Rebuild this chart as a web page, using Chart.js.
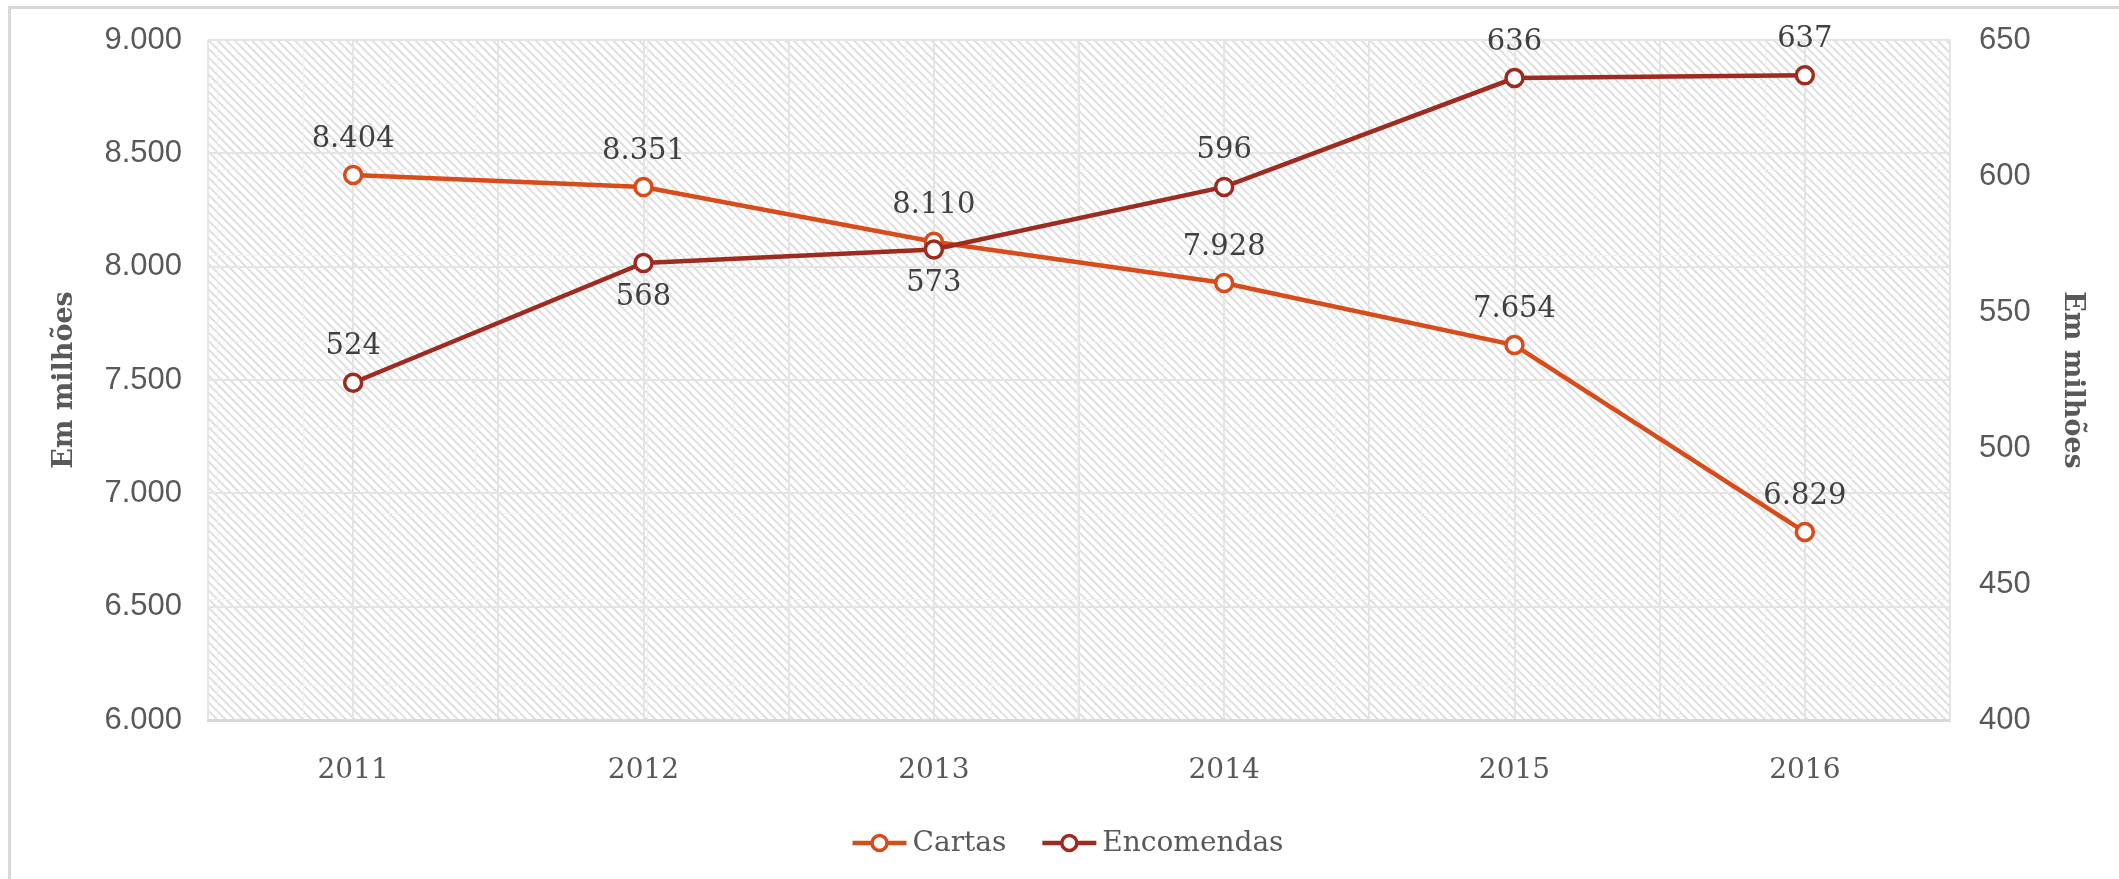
<!DOCTYPE html>
<html>
<head>
<meta charset="utf-8">
<script src="https://cdn.jsdelivr.net/npm/chart.js@4.4.0/dist/chart.umd.min.js"></script>
<style>
  html, body { margin: 0; padding: 0; background: #fff; overflow: hidden; }
  #wrap { position: relative; width: 2119px; height: 879px; }
  #frame { position: absolute; left: 8px; top: 6px; width: 2300px; height: 1000px;
           border: 3px solid #d9d9d9; box-sizing: border-box; pointer-events: none; }
  #c { position: absolute; left: 0; top: 0; }
</style>
</head>
<body>
<div id="wrap">
  <div id="frame"></div>
  <canvas id="c" width="2119" height="879"></canvas>
</div>
<script>
// Volume de tráfego postal (milhões de objetos)
const years = ['2011', '2012', '2013', '2014', '2015', '2016'];
const cartas = [8404, 8351, 8110, 7928, 7654, 6829];
const encomendas = [524, 568, 573, 596, 636, 637];

// Eixos
const leftAxis = { min: 6000, max: 9000, step: 500 };
const rightAxis = { min: 400, max: 650, step: 50 };
const axisTitle = 'Em milhões';

// Posição dos rótulos de valor de cada série
const cartasLabelSide = ['above', 'above', 'above', 'above', 'above', 'above'];
const encomendasLabelSide = ['above', 'below', 'below', 'above', 'above', 'above'];

const COL_CARTAS = '#D84B1A';
const COL_ENCOMENDAS = '#9E2B20';
const TEXT = '#595959';
const SERIF = '"DejaVu Serif", serif';
const SANS = '"Liberation Sans", Arial, sans-serif';

const fmt = v => String(v).replace(/\B(?=(\d{3})+(?!\d))/g, '.');

// Tracejado diagonal do fundo da área de plotagem
function makeHatch(ctx) {
  const T = 86, p = 8.6;
  const c = document.createElement('canvas');
  c.width = T; c.height = T;
  const g = c.getContext('2d');
  g.fillStyle = '#ffffff';
  g.fillRect(0, 0, T, T);
  g.strokeStyle = '#dfdfdf';
  g.lineWidth = 2;
  for (let k = -12; k <= 12; k++) {
    const x0 = k * p;
    g.beginPath();
    g.moveTo(x0 - p, -p);
    g.lineTo(x0 + T + p, T + p);
    g.stroke();
  }
  g.strokeStyle = 'rgba(240,240,240,0.9)';
  g.lineWidth = 1.2;
  g.beginPath();
  g.moveTo(0.5, 0); g.lineTo(0.5, T);
  g.moveTo(0, 0.5); g.lineTo(T, 0.5);
  g.stroke();
  const pat = ctx.createPattern(c, 'repeat');
  pat.setTransform(new DOMMatrix([1, 0, 0, 1, 45, -3]));
  return pat;
}

const hatchPlugin = {
  id: 'hatchBg',
  beforeDraw(chart) {
    const { ctx, chartArea: a } = chart;
    if (!this._pat) this._pat = makeHatch(ctx);
    ctx.save();
    ctx.fillStyle = this._pat;
    ctx.fillRect(a.left, a.top, a.right - a.left, a.bottom - a.top);
    ctx.restore();
  }
};

const sides = [cartasLabelSide, encomendasLabelSide];
const valueLabels = {
  id: 'valueLabels',
  afterDatasetsDraw(chart) {
    const ctx = chart.ctx;
    ctx.save();
    ctx.font = '29px ' + SERIF;
    ctx.fillStyle = '#404040';
    ctx.textAlign = 'center';
    ctx.textBaseline = 'middle';
    chart.data.datasets.forEach((ds, di) => {
      const meta = chart.getDatasetMeta(di);
      meta.data.forEach((pt, i) => {
        const off = sides[di][i] === 'below' ? 34 : -36;
        ctx.fillText(fmt(ds.data[i].y), pt.x, pt.y + off);
      });
    });
    ctx.restore();
  }
};

const lineLegend = {
  id: 'lineLegend',
  afterDraw(chart) {
    const ctx = chart.ctx;
    const cy = 843, centerX = 1068, markW = 54, gap = 6, itemGap = 36;
    ctx.save();
    ctx.font = '28px ' + SERIF;
    const items = chart.data.datasets.map(ds => ({
      text: ds.label, color: ds.borderColor, w: ctx.measureText(ds.label).width
    }));
    const total = items.reduce((s, it) => s + markW + gap + it.w, 0) + itemGap * (items.length - 1);
    let x = centerX - total / 2;
    items.forEach(it => {
      ctx.strokeStyle = it.color;
      ctx.lineWidth = 4.5;
      ctx.beginPath();
      ctx.moveTo(x, cy); ctx.lineTo(x + markW, cy);
      ctx.stroke();
      ctx.fillStyle = '#fff';
      ctx.lineWidth = 3.5;
      ctx.beginPath();
      ctx.arc(x + markW / 2, cy, 7.5, 0, Math.PI * 2);
      ctx.fill(); ctx.stroke();
      ctx.fillStyle = TEXT;
      ctx.textAlign = 'left';
      ctx.textBaseline = 'middle';
      ctx.fillText(it.text, x + markW + gap, cy + 1);
      x += markW + gap + it.w + itemGap;
    });
    ctx.restore();
  }
};

const toPoints = arr => arr.map((v, i) => ({ x: i, y: v }));

const seriesStyle = color => ({
  borderColor: color,
  backgroundColor: color,
  borderWidth: 4.5,
  pointRadius: 8.5,
  pointBorderWidth: 3.5,
  pointBackgroundColor: '#ffffff',
  pointBorderColor: color,
  tension: 0
});

// Larguras fixas dos eixos verticais, sem folga extra em cima/baixo
const fixVertical = width => s => {
  s.width = width;
  s.paddingTop = 0;
  s.paddingBottom = 0;
};

new Chart(document.getElementById('c'), {
  type: 'line',
  data: {
    datasets: [
      Object.assign({ label: 'Cartas', data: toPoints(cartas), yAxisID: 'y', order: 1 }, seriesStyle(COL_CARTAS)),
      Object.assign({ label: 'Encomendas', data: toPoints(encomendas), yAxisID: 'y2', order: 0 }, seriesStyle(COL_ENCOMENDAS))
    ]
  },
  options: {
    responsive: false,
    animation: false,
    layout: { padding: { left: 20, right: 4, top: 40, bottom: 59 } },
    plugins: {
      legend: { display: false },
      tooltip: { enabled: false }
    },
    scales: {
      x: {
        type: 'linear',
        min: -0.5,
        max: years.length - 0.5,
        afterFit: s => { s.height = 100; },
        afterBuildTicks: s => {
          const t = [];
          for (let v = -0.5; v <= years.length - 0.5 + 1e-9; v += 0.5) t.push({ value: v });
          s.ticks = t;
        },
        ticks: {
          autoSkip: false,
          maxRotation: 0,
          padding: 34,
          color: TEXT,
          font: { family: SERIF, size: 28 },
          callback: v => (Number.isInteger(v) ? years[v] : '')
        },
        grid: { color: '#e4e4e4', lineWidth: 2, drawTicks: false },
        border: { display: true, color: '#d9d9d9', width: 3 }
      },
      y: {
        position: 'left',
        min: leftAxis.min,
        max: leftAxis.max,
        afterFit: fixVertical(188),
        ticks: {
          stepSize: leftAxis.step,
          padding: 26,
          color: TEXT,
          font: { family: SANS, size: 31 },
          callback: v => fmt(v)
        },
        grid: { color: '#e4e4e4', lineWidth: 2, drawTicks: false },
        border: { display: false },
        title: {
          display: true,
          text: axisTitle,
          color: TEXT,
          font: { family: SERIF, size: 27, weight: 'bold' },
          padding: { top: 29, bottom: 0 }
        }
      },
      y2: {
        position: 'right',
        min: rightAxis.min,
        max: rightAxis.max,
        afterFit: fixVertical(165),
        ticks: {
          stepSize: rightAxis.step,
          padding: 29,
          color: TEXT,
          font: { family: SANS, size: 31 }
        },
        grid: { display: false, drawTicks: false },
        border: { display: true, color: '#e4e4e4', width: 2 },
        title: {
          display: true,
          text: axisTitle,
          color: TEXT,
          font: { family: SERIF, size: 27, weight: 'bold' },
          padding: { top: 27, bottom: 0 }
        }
      }
    }
  },
  plugins: [hatchPlugin, valueLabels, lineLegend]
});
</script>
</body>
</html>
